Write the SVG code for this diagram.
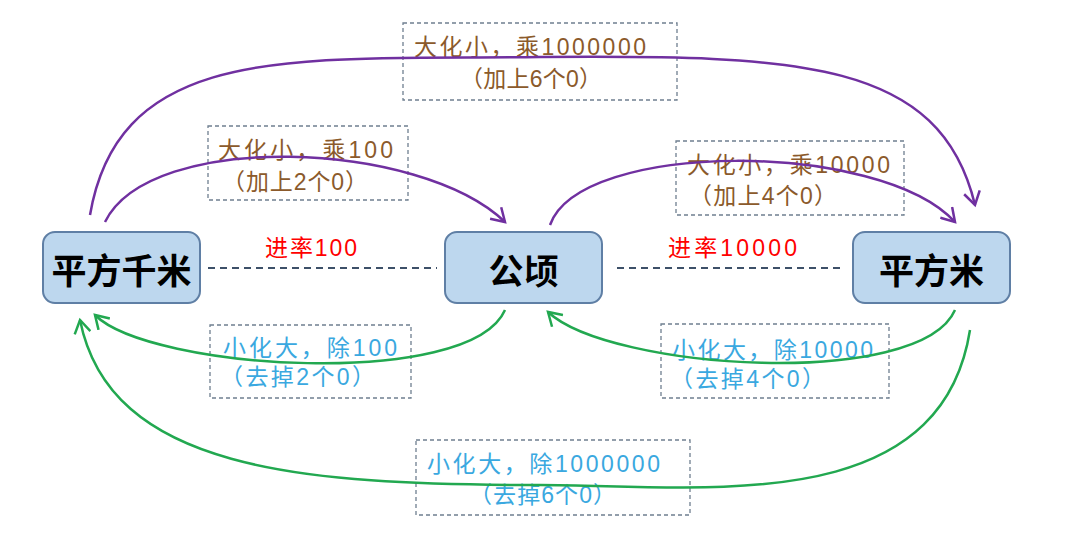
<svg xmlns="http://www.w3.org/2000/svg" width="1071" height="549" viewBox="0 0 1071 549">
<defs>
<style>
.node rect{fill:#bdd7ee;stroke:#5f7fa5;stroke-width:2}
.node text{font-family:"Liberation Sans","Noto Sans CJK SC",sans-serif;font-size:35px;font-weight:bold;fill:#000;text-anchor:middle}
.box{fill:none;stroke:#6f7f90;stroke-width:1.3;stroke-dasharray:4 3}
.up{font-family:"Liberation Sans","Noto Sans CJK SC",sans-serif;font-size:23px;fill:#8b5a2b}
.dn{font-family:"Liberation Sans","Noto Sans CJK SC",sans-serif;font-size:23px;fill:#3aa8e0}
.rate{font-family:"Liberation Sans","Noto Sans CJK SC",sans-serif;font-size:23px;fill:#ff0000}
.dash{stroke:#3d5068;stroke-width:2;stroke-dasharray:7 5}
.p{fill:none;stroke:#7030a0;stroke-width:2.5}
.g{fill:none;stroke:#22a850;stroke-width:2.5}
</style>
<marker id="ap" markerWidth="18" markerHeight="18" refX="14" refY="9" orient="auto" markerUnits="userSpaceOnUse">
<path d="M1,1 L14,9 L1,17" fill="none" stroke="#7030a0" stroke-width="2.5"/>
</marker>
<marker id="ag" markerWidth="18" markerHeight="18" refX="14" refY="9" orient="auto" markerUnits="userSpaceOnUse">
<path d="M1,1 L14,9 L1,17" fill="none" stroke="#22a850" stroke-width="2.5"/>
</marker>
</defs>
<rect width="1071" height="549" fill="#ffffff"/>

<g id="labels">
<rect class="box" x="403" y="23" width="274" height="77"/>
<text class="up" x="414" y="55" textLength="232" lengthAdjust="spacing">大化小，乘1000000</text>
<text class="up" x="460" y="87" textLength="142" lengthAdjust="spacing">（加上6个0）</text>
<rect class="box" x="208" y="126" width="200" height="74"/>
<text class="up" x="218" y="158" textLength="175" lengthAdjust="spacing">大化小，乘100</text>
<text class="up" x="222" y="190" textLength="146" lengthAdjust="spacing">（加上2个0）</text>
<rect class="box" x="676" y="141" width="228" height="74"/>
<text class="up" x="687" y="173" textLength="203" lengthAdjust="spacing">大化小，乘10000</text>
<text class="up" x="689" y="204" textLength="148" lengthAdjust="spacing">（加上4个0）</text>
<rect class="box" x="210" y="325" width="201" height="73"/>
<text class="dn" x="223" y="356" textLength="174" lengthAdjust="spacing">小化大，除100</text>
<text class="dn" x="220" y="385" textLength="155" lengthAdjust="spacing">（去掉2个0）</text>
<rect class="box" x="661" y="324" width="228" height="74"/>
<text class="dn" x="672" y="358" textLength="201" lengthAdjust="spacing">小化大，除10000</text>
<text class="dn" x="670" y="387" textLength="155" lengthAdjust="spacing">（去掉4个0）</text>
<rect class="box" x="416" y="440" width="274" height="75"/>
<text class="dn" x="427" y="472" textLength="233" lengthAdjust="spacing">小化大，除1000000</text>
<text class="dn" x="469" y="503" textLength="147" lengthAdjust="spacing">（去掉6个0）</text>
<text class="rate" x="265" y="256" textLength="92" lengthAdjust="spacing">进率100</text>
<text class="rate" x="668" y="256" textLength="129" lengthAdjust="spacing">进率10000</text>
</g>

<g id="connectors">
<line class="dash" x1="208" y1="268" x2="437" y2="268"/>
<line class="dash" x1="617" y1="268" x2="845" y2="268"/>
<path class="p" d="M90,215 C120,40 300,60 540,57 C800,55 940,60 975,205" marker-end="url(#ap)"/>
<path class="p" d="M105,222 C150,130 420,140 505,222" marker-end="url(#ap)"/>
<path class="p" d="M550,225 C580,140 880,140 955,222" marker-end="url(#ap)"/>
<path class="g" d="M505,310 C470,390 150,370 95,315" marker-end="url(#ag)"/>
<path class="g" d="M955,310 C920,390 610,370 548,312" marker-end="url(#ag)"/>
<path class="g" d="M970,330 C940,520 700,485 540,485 C300,485 110,470 80,320" marker-end="url(#ag)"/>
</g>

<g id="n1" class="node">
<rect x="43" y="232" width="157" height="71" rx="12"/>
<text x="121.5" y="284">平方千米</text>
</g>
<g id="n2" class="node">
<rect x="445" y="232" width="157" height="71" rx="12"/>
<text x="523.5" y="284">公顷</text>
</g>
<g id="n3" class="node">
<rect x="853" y="232" width="157" height="71" rx="12"/>
<text x="931.5" y="284">平方米</text>
</g>
</svg>
